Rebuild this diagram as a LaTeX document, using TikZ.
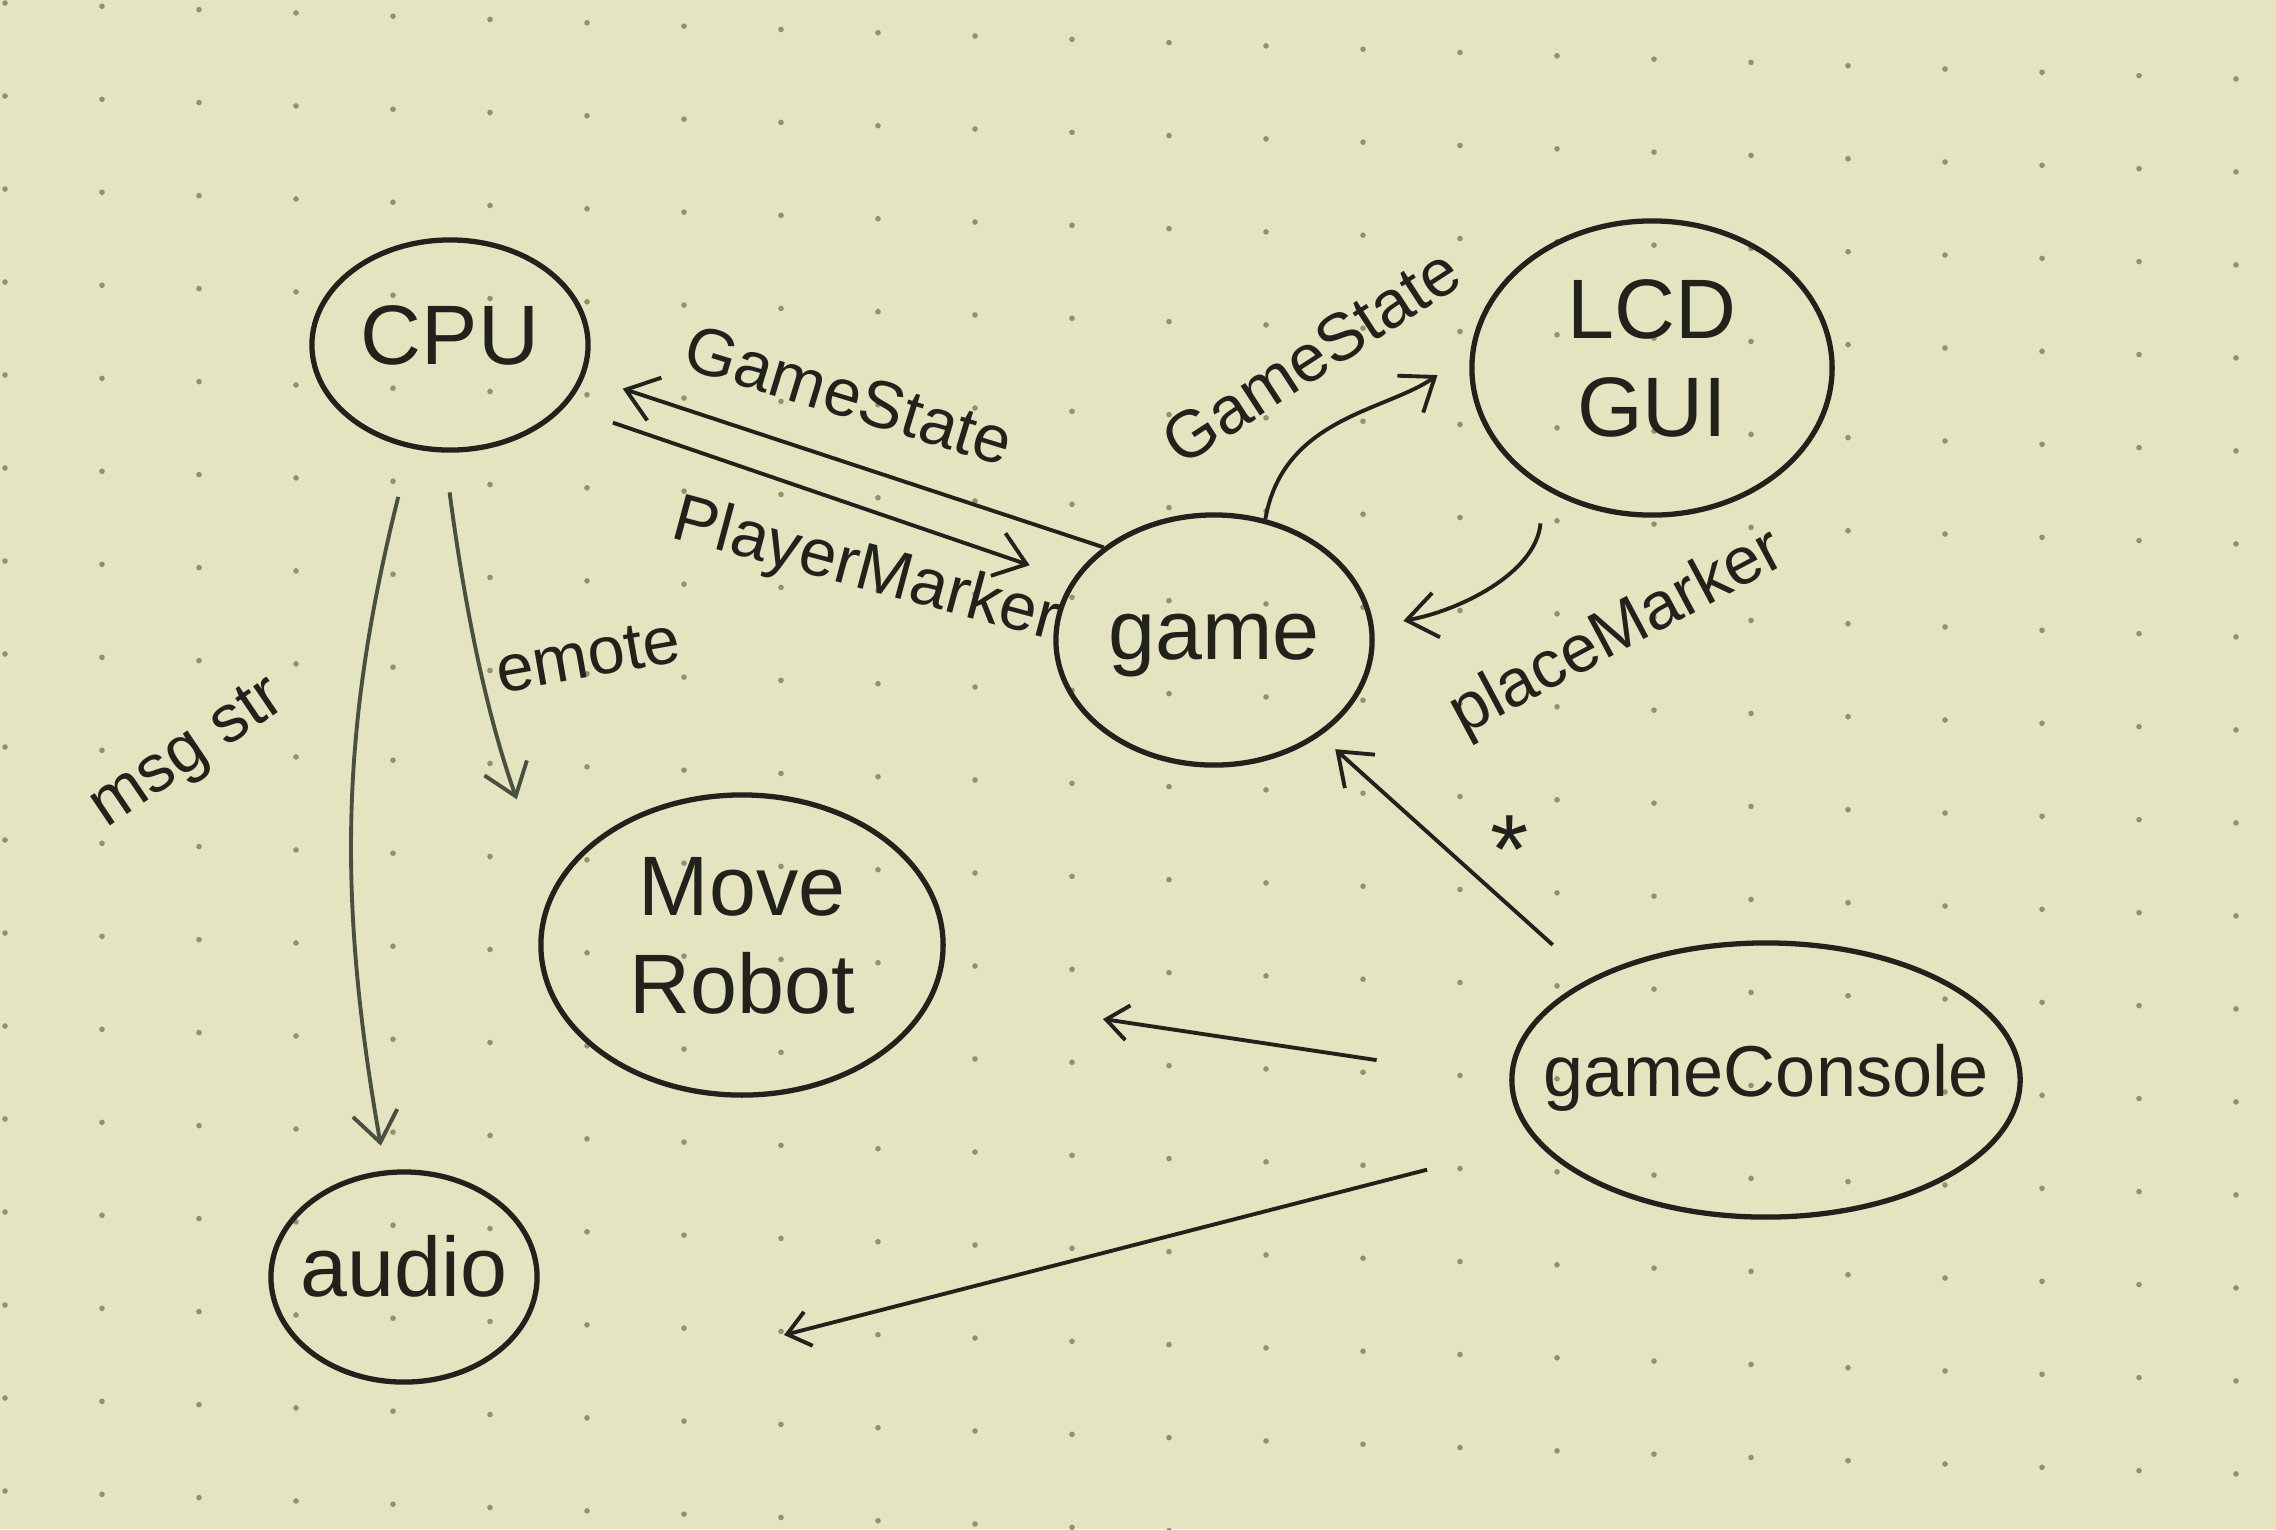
\documentclass[tikz,border=0pt]{standalone}
\usepackage{fontspec}
\setmainfont{Liberation Sans}
\usetikzlibrary{shapes.geometric,arrows.meta}
\definecolor{paper}{RGB}{228,228,192}
\definecolor{ink}{RGB}{34,34,28}
\definecolor{pencil}{RGB}{72,80,66}
\definecolor{dotc}{RGB}{145,145,112}
\newcommand{\hc}[1]{\makebox[0pt]{\begin{tabular}{@{}c@{}}#1\end{tabular}}}
\begin{document}
\begin{tikzpicture}[x=0.01cm,y=-0.01cm,
  blob/.style={ellipse, draw=ink, line width=1.5pt, text=ink,
    font=\fontsize{24}{28}\selectfont, inner sep=0pt},
  flow/.style={draw=ink, line width=1.1pt,
    -{Straight Barb[length=3mm,width=4.5mm]}},
  sflow/.style={flow, draw=pencil},
  lbl/.style={text=ink, font=\fontsize{19}{22}\selectfont, inner sep=1pt}]
\fill[paper] (0,0) rectangle (2276,1529);
\useasboundingbox (0,0) rectangle (2276,1529);
\foreach \i in {0,...,23}{
  \foreach \j in {0,...,16}{
    \fill[dotc] ({5+97*\i},{3+93*\j+3.3*\i}) circle[radius=0.028cm];
  }
}
% nodes
\node[blob, minimum width=2.76cm, minimum height=2.1cm] (cpu) at (450,345) {\hc{CPU}};
\node[blob, minimum width=3.6cm, minimum height=2.94cm] (lcd) at (1652,368) {\hc{LCD\\GUI}};
\node[blob, minimum width=3.16cm, minimum height=2.5cm] (game) at (1214,640) {\hc{game}};
\node[blob, minimum width=4.02cm, minimum height=3.0cm] (robot) at (742,945) {\hc{Move\\Robot}};
\node[blob, minimum width=2.66cm, minimum height=2.1cm] (audio) at (404,1277) {\hc{audio}};
\node[blob, minimum width=5.08cm, minimum height=2.74cm, font=\fontsize{20.5}{24}\selectfont] (gc) at (1766,1080) {\hc{gameConsole}};
% free ends
\coordinate (f1) at (1103,1019);
\coordinate (f2) at (784,1335);
% connectors
\draw[flow, shorten >=4mm] (game.140) -- (cpu.-13);
\draw[flow, shorten <=5mm, shorten >=4.5mm] (cpu.-28) -- (game.157);
\draw[flow, shorten >=4mm] (game.67) to[out=80,in=215] (lcd.175);
\draw[flow, shorten <=3.5mm, shorten >=3mm] (lcd.-132) to[out=-95,in=10] (game.5);
\draw[sflow, shorten <=4mm, shorten >=10mm] (cpu.-93) to[bend right=6] (robot.165);
\draw[sflow, shorten <=5mm, shorten >=2.5mm] (cpu.-111) to[bend right=12] (audio.100);
\draw[flow, shorten <=5mm, shorten >=2mm] (gc.150) -- (game.-42);
\draw[flow, shorten <=13.4mm, -{Straight Barb[length=2.2mm,width=3.5mm]}] (gc.west) -- (f1);
\draw[flow, shorten <=11.2mm, -{Straight Barb[length=2.2mm,width=3.5mm]}] (gc.195) -- (f2);
% labels
\node[lbl, rotate=-17] (l1) at (849,395) {GameState};
\node[lbl, rotate=-15] (l2) at (866,572) {PlayerMarker};
\node[lbl, rotate=33] (l3) at (1311,356) {GameState};
\node[lbl, rotate=28] (l4) at (1618,634) {placeMarker};
\node[lbl, rotate=10] (l5) at (588,656) {emote};
\node[lbl, rotate=34] (l6) at (189,755) {msg str};
\node[lbl, font=\fontsize{28}{30}\selectfont] (l7) at (1510,850) {*};
\end{tikzpicture}
\end{document}
